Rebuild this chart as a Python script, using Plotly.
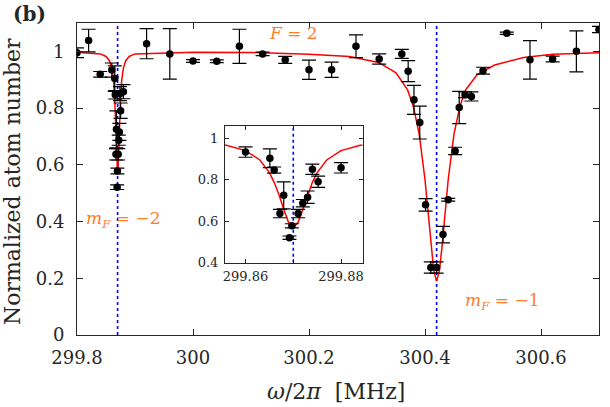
import plotly.graph_objects as go

# measured points: frequency (MHz), normalized atom number, error
freq = [299.800, 299.820, 299.840, 299.860, 299.8651, 299.866, 299.8672, 299.868, 299.8692, 299.8697,
        299.871, 299.872, 299.873, 299.874, 299.8752, 299.880, 299.920, 299.960, 300.000, 300.041,
        300.080, 300.120, 300.159, 300.200, 300.239, 300.281, 300.321, 300.360, 300.371, 300.381,
        300.391, 300.401, 300.410, 300.420, 300.431, 300.440, 300.452, 300.459, 300.469, 300.480,
        300.500, 300.541, 300.581, 300.620, 300.661, 300.700]
atoms = [0.995, 1.038, 0.919, 0.934, 0.904, 0.847, 0.637, 0.725, 0.521, 0.578,
         0.637, 0.687, 0.716, 0.851, 0.791, 0.858, 1.027, 0.991, 0.966, 0.965,
         1.018, 0.991, 0.970, 0.935, 0.935, 1.018, 0.973, 0.991, 0.930, 0.829,
         0.749, 0.459, 0.238, 0.238, 0.354, 0.477, 0.649, 0.802, 0.847, 0.841,
         0.932, 1.064, 0.970, 0.973, 1.000, 1.077]
err = [0.017, 0.040, 0.010, 0.025, 0.045, 0.015, 0.020, 0.065, 0.008, 0.010,
       0.020, 0.018, 0.030, 0.025, 0.027, 0.025, 0.053, 0.089, 0.005, 0.005,
       0.060, 0.006, 0.012, 0.034, 0.027, 0.040, 0.018, 0.016, 0.037, 0.051,
       0.058, 0.022, 0.020, 0.020, 0.029, 0.005, 0.013, 0.057, 0.010, 0.016,
       0.012, 0.004, 0.068, 0.010, 0.072, 0.011]

# fitted curve
fit_x = [299.800, 299.840, 299.850, 299.856, 299.860, 299.863, 299.865, 299.866, 299.867, 299.868,
         299.869, 299.870, 299.871, 299.872, 299.873, 299.874, 299.875, 299.877, 299.880, 299.884,
         299.890, 299.900, 300.000, 300.100, 300.200, 300.270, 300.320, 300.350, 300.370, 300.380,
         300.390, 300.400, 300.405, 300.410, 300.415, 300.420, 300.425, 300.430, 300.435, 300.440,
         300.450, 300.460, 300.470, 300.490, 300.520, 300.570, 300.620, 300.700]
fit_y = [0.997, 0.991, 0.982, 0.967, 0.941, 0.896, 0.835, 0.788, 0.728, 0.658,
         0.595, 0.568, 0.595, 0.658, 0.728, 0.788, 0.835, 0.896, 0.941, 0.967,
         0.982, 0.991, 0.997, 0.996, 0.990, 0.982, 0.961, 0.924, 0.864, 0.805,
         0.708, 0.548, 0.439, 0.324, 0.228, 0.190, 0.228, 0.324, 0.439, 0.548,
         0.708, 0.805, 0.864, 0.918, 0.952, 0.978, 0.990, 0.995]

resonances = [299.870, 300.420]

FONT = "DejaVu Serif"
AX = "#262626"
ORANGE = "rgb(255,125,40)"

fig = go.Figure()

for xa, ya, ylo, yhi in [("x", "y", 0, 1.1), ("x2", "y2", 0.4, 1.06)]:
    for r in resonances:
        fig.add_trace(go.Scatter(x=[r, r], y=[ylo, yhi], mode="lines", xaxis=xa, yaxis=ya,
                                 line=dict(color="blue", width=1.6, dash="dot")))
    fig.add_trace(go.Scatter(x=fit_x, y=fit_y, mode="lines", xaxis=xa, yaxis=ya,
                             line=dict(color="red", width=1.5)))
    fig.add_trace(go.Scatter(x=freq, y=atoms, mode="markers", xaxis=xa, yaxis=ya,
                             marker=dict(color="black", size=7.5),
                             error_y=dict(type="data", array=err, color="black",
                                          thickness=1.2, width=7)))

axis_common = dict(showline=True, linecolor=AX, linewidth=1, mirror="ticks", ticks="inside",
                   tickcolor=AX, showgrid=False, zeroline=False)

fig.update_layout(
    width=610, height=407,
    margin=dict(l=77, r=11, t=23, b=72, pad=0),
    plot_bgcolor="white", paper_bgcolor="white",
    showlegend=False,
    font=dict(family=FONT, color=AX),
    xaxis=dict(domain=[0, 1], range=[299.8, 300.7], ticklen=6,
               tickvals=[299.8, 300, 300.2, 300.4, 300.6],
               ticktext=["299.8", "300", "300.2", "300.4", "300.6"],
               tickfont=dict(size=18), ticklabelstandoff=6, **axis_common),
    yaxis=dict(domain=[0, 1], range=[0, 1.1], ticklen=6,
               tickvals=[0, 0.2, 0.4, 0.6, 0.8, 1],
               ticktext=["0", "0.2", "0.4", "0.6", "0.8", "1"],
               tickfont=dict(size=18), ticklabelstandoff=8, **axis_common),
    xaxis2=dict(domain=[0.2835, 0.547], anchor="y2", range=[299.8557, 299.8845], ticklen=4,
                tickvals=[299.86, 299.88], ticktext=["299.86", "299.88"],
                minor=dict(tickvals=[299.87], ticks="inside", ticklen=4, tickcolor=AX),
                tickfont=dict(size=13), ticklabelstandoff=2, **axis_common),
    yaxis2=dict(domain=[0.2317, 0.670], anchor="x2", range=[0.4, 1.06], ticklen=4,
                tickvals=[0.4, 0.6, 0.8, 1], ticktext=["0.4", "0.6", "0.8", "1"],
                tickfont=dict(size=13), ticklabelstandoff=3, **axis_common),
)

# labels
fig.add_annotation(text="Normalized atom number", xref="paper", yref="paper", x=0, y=0.49,
                   xanchor="center", yanchor="middle", xshift=-65, textangle=-90,
                   showarrow=False, font=dict(size=22, color=AX))
fig.add_annotation(text="<i>ω</i>/2<i>π</i>  [MHz]", xref="paper", yref="paper", x=0.496, y=0,
                   xanchor="center", yanchor="middle", yshift=-56, showarrow=False,
                   font=dict(size=22, color=AX))
fig.add_annotation(text="<b>(b)</b>", xref="paper", yref="paper", x=0, y=1,
                   xanchor="center", yanchor="middle", xshift=-48, yshift=9,
                   showarrow=False, font=dict(size=20, color=AX))
fig.add_annotation(text="<i>F</i> = 2", x=300.173, y=1.064, showarrow=False,
                   font=dict(size=17, color=ORANGE))
fig.add_annotation(text="<i>m</i><sub><i>F</i></sub> = −2", x=299.881, y=0.407, showarrow=False,
                   font=dict(size=17, color=ORANGE))
fig.add_annotation(text="<i>m</i><sub><i>F</i></sub> = −1", x=300.533, y=0.117, showarrow=False,
                   font=dict(size=17, color=ORANGE))

fig.write_html("out.html", config={"displayModeBar": False},
               post_script="document.body.style.margin='0';")
